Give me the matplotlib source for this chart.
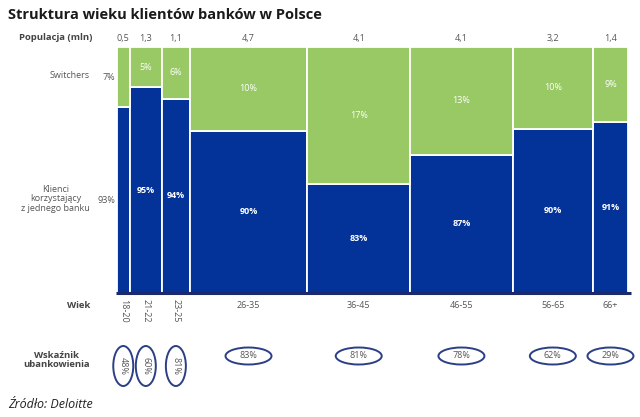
import numpy as np
import matplotlib.pyplot as plt
from matplotlib.patches import Ellipse
from matplotlib.transforms import blended_transform_factory

plt.rcParams['font.family'] = ['Open Sans', 'DejaVu Sans']

# data
ages = ['18-20', '21-22', '23-25', '26-35', '36-45', '46-55', '56-65', '66+']
population = [0.5, 1.3, 1.1, 4.7, 4.1, 4.1, 3.2, 1.4]
pop_labels = ['0,5', '1,3', '1,1', '4,7', '4,1', '4,1', '3,2', '1,4']
single_bank = [93, 95, 94, 90, 83, 87, 90, 91]
switchers = [7, 5, 6, 10, 17, 13, 10, 9]
# height of the blue block as drawn in the original (not proportional to the labels)
blue_height = [0.756, 0.837, 0.789, 0.659, 0.443, 0.561, 0.667, 0.695]
banked = [48, 60, 81, 83, 81, 78, 62, 29]

BLUE = '#033399'
GREEN = '#99c965'
TXT = '#555555'
W, H = 640, 417

fig = plt.figure(figsize=(6.4, 4.17), dpi=100)
ax = fig.add_axes([117 / W, 1 - 293 / H, (628 - 117) / W, (293 - 47) / H])

pop = np.array(population)
lefts = np.concatenate([[0], np.cumsum(pop)[:-1]])
centers = lefts + pop / 2
blue = np.array(blue_height)

ax.bar(lefts, blue, width=pop, align='edge', color=BLUE, edgecolor='white', linewidth=1.3)
ax.bar(lefts, 1 - blue, bottom=blue, width=pop, align='edge', color=GREEN,
       edgecolor='white', linewidth=1.3)

ax.set_xlim(0, pop.sum())
ax.set_ylim(0, 1)
for s in ax.spines.values():
    s.set_visible(False)
ax.set_xticks([])
ax.set_yticks([])
ax.plot([-0.05, pop.sum() + 0.1], [0, 0], color='#1a2a6c', lw=2.2, clip_on=False,
        solid_capstyle='butt')

# labels inside the blocks
for i in range(1, len(ages)):
    ax.text(centers[i], blue[i] / 2, f'{single_bank[i]}%', color='white', fontsize=6.5,
            ha='center', va='center', fontweight='bold')
    ax.text(centers[i], (1 + blue[i]) / 2, f'{switchers[i]}%', color='white', fontsize=6.5,
            ha='center', va='center')

# first column: labels outside to the left
ax.text(-0.08, (1 + blue[0]) / 2, f'{switchers[0]}%', color=TXT, fontsize=6.5,
        ha='right', va='center')
ax.text(-0.08, blue[0] / 2, f'{single_bank[0]}%', color=TXT, fontsize=6.5,
        ha='right', va='center')

tr = blended_transform_factory(ax.transData, fig.transFigure)


def fy(ypx):
    return 1 - ypx / H


# population row
for c, lab in zip(centers, pop_labels):
    ax.text(c, fy(38), lab, transform=tr, ha='center', va='center', fontsize=6.5, color=TXT)

# age row
for i, (c, lab) in enumerate(zip(centers, ages)):
    if i < 3:
        ax.text(c, fy(311), lab, transform=tr, ha='center', va='center', fontsize=6.5,
                color=TXT, rotation=-90)
    else:
        ax.text(c, fy(305), lab, transform=tr, ha='center', va='center', fontsize=6.5,
                color=TXT)

# banking rate in ellipses
for i, (c, v) in enumerate(zip(centers, banked)):
    xpx = ax.transData.transform((c, 0))[0]
    if i < 3:
        cy, ew, eh, rot = 366, 20, 40, -90
    else:
        cy, ew, eh, rot = 356, 46, 17, 0
    ax.add_patch(Ellipse((xpx / W, fy(cy)), ew / W, eh / H, transform=fig.transFigure,
                         fc='white', ec='#2a3f85', lw=1.4, clip_on=False, zorder=3))
    ax.text(c, fy(cy), f'{v}%', transform=tr, ha='center', va='center', fontsize=6.5,
            color=TXT, rotation=rot, zorder=5)

# left-hand captions
fig.text(8 / W, fy(15), 'Struktura wieku klientów banków w Polsce', fontsize=10.5,
         fontweight='bold', ha='left', va='center', color='#1a1a1a')
fig.text(92 / W, fy(38), 'Populacja (mln)', fontsize=6.8, fontweight='bold', ha='right',
         va='center', color='#444444')
fig.text(90 / W, fy(76), 'Switchers', fontsize=6.5, ha='right', va='center', color=TXT)
fig.text(90 / W, fy(199), 'Klienci\nkorzystający\nz jednego banku', fontsize=6.5,
         ha='right', va='center', color=TXT, multialignment='center', linespacing=1.05)
fig.text(90 / W, fy(305), 'Wiek', fontsize=6.8, fontweight='bold', ha='right', va='center',
         color='#444444')
fig.text(90 / W, fy(360), 'Wskaźnik\nubankowienia', fontsize=6.8, fontweight='bold',
         ha='right', va='center', color='#444444', multialignment='center', linespacing=1.0)
fig.text(8 / W, fy(405), 'Źródło: Deloitte', fontsize=9, fontstyle='italic', ha='left',
         va='center', color='#222222')

fig.savefig('out.png', dpi=100)
